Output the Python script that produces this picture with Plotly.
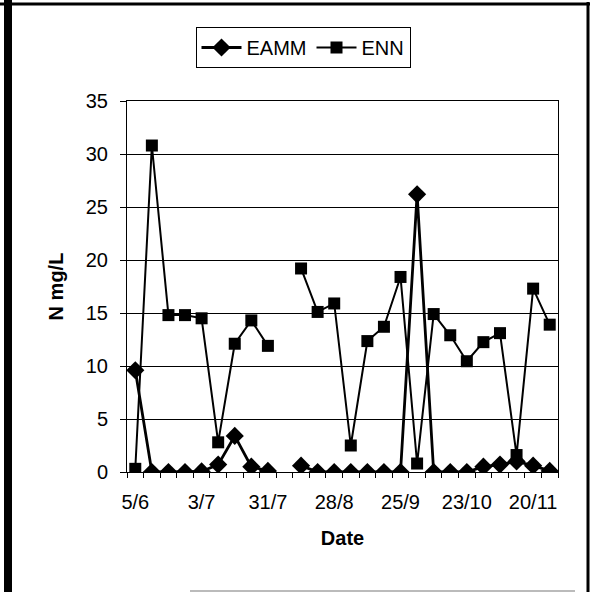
import plotly.graph_objects as go

dates = ["5/6", "12/6", "19/6", "26/6", "3/7", "10/7", "17/7", "24/7", "31/7", "7/8",
         "14/8", "21/8", "28/8", "4/9", "11/9", "18/9", "25/9", "2/10", "9/10", "16/10",
         "23/10", "30/10", "6/11", "13/11", "20/11", "27/11"]
label_dates = ["5/6", "3/7", "31/7", "28/8", "25/9", "23/10", "20/11"]

eamm = [9.6, 0.0, 0.0, 0.0, 0.05, 0.7, 3.4, 0.5, 0.1, None,
        0.6, 0.0, 0.0, 0.0, 0.0, 0.0, 0.0, 26.2, 0.0, 0.0,
        0.0, 0.5, 0.7, 1.0, 0.6, 0.1]
enn = [0.3, 30.8, 14.8, 14.8, 14.5, 2.8, 12.1, 14.3, 11.9, None,
       19.2, 15.1, 15.9, 2.5, 12.35, 13.7, 18.4, 0.8, 14.9, 12.9,
       10.45, 12.25, 13.1, 1.6, 17.3, 13.9]

fig = go.Figure()
fig.add_trace(go.Scatter(x=dates, y=eamm, name="EAMM", mode="lines+markers",
                         line=dict(color="black", width=2.8),
                         marker=dict(symbol="diamond", size=14, color="black"),
                         connectgaps=False))
fig.add_trace(go.Scatter(x=dates, y=enn, name="ENN", mode="lines+markers",
                         line=dict(color="black", width=2.0),
                         marker=dict(symbol="square", size=12, color="black"),
                         connectgaps=False))

ticktext = [d if d in label_dates else "" for d in dates]

W, H = 590, 592
L, R, T, B = 127, 32, 101, 120
pw, ph = W - L - R, H - T - B


def px(x):
    return (x - L) / pw


def py(y):
    return (H - B - y) / ph


fig.update_layout(
    width=W, height=H,
    paper_bgcolor="white", plot_bgcolor="white",
    margin=dict(l=L, r=R, t=T, b=B),
    font=dict(family="Liberation Sans, Arial, sans-serif", size=20, color="black"),
    showlegend=True,
    legend=dict(orientation="h", x=px(303), y=py(27), xanchor="center", yanchor="top",
                bordercolor="black", borderwidth=1, font=dict(size=20),
                itemwidth=40, tracegroupgap=0),
    xaxis=dict(type="category", categoryorder="array", categoryarray=dates,
               range=[-0.5, len(dates) - 0.5],
               tickmode="array", tickvals=dates, ticktext=ticktext,
               tickson="boundaries", ticks="outside", ticklen=5, tickcolor="black",
               ticklabelstandoff=12,
               showgrid=False, showline=True, linecolor="black", linewidth=1, mirror=True,
               tickangle=0, tickfont=dict(size=20),
               title=dict(text="<b>Date</b>", font=dict(size=20), standoff=18)),
    yaxis=dict(range=[0, 35], tickvals=[0, 5, 10, 15, 20, 25, 30, 35],
               ticks="outside", ticklen=6, tickcolor="black",
               ticklabelstandoff=8, tickfont=dict(size=20),
               showgrid=True, gridcolor="black", gridwidth=1,
               showline=True, linecolor="black", linewidth=1, mirror=True,
               zeroline=False,
               title=dict(text="<b>N mg/L</b>", font=dict(size=20), standoff=16)),
)

# Scanned page frame
fig.add_shape(type="line", xref="paper", yref="paper",
              x0=px(0), x1=px(590), y0=py(4), y1=py(4),
              line=dict(color="black", width=3))
fig.add_shape(type="line", xref="paper", yref="paper",
              x0=px(8), x1=px(8), y0=py(592), y1=py(0),
              line=dict(color="black", width=8))
fig.add_shape(type="line", xref="paper", yref="paper",
              x0=px(588), x1=px(588), y0=py(592), y1=py(2),
              line=dict(color="black", width=3))
fig.add_shape(type="line", xref="paper", yref="paper",
              x0=px(190), x1=px(575), y0=py(591), y1=py(591),
              line=dict(color="#bbbbbb", width=2))

fig.write_html("out.html", config={"displayModeBar": False},
               post_script="document.body.style.margin='0';")
